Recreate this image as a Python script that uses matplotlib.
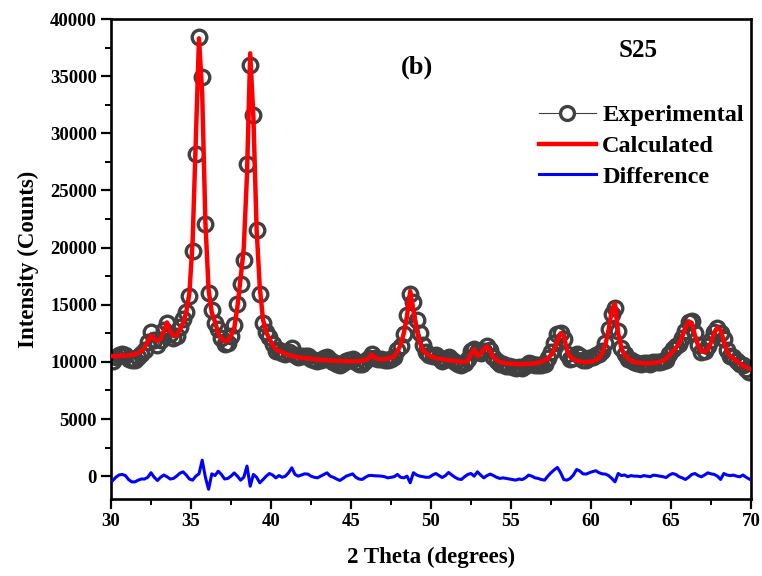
import numpy as np
import matplotlib
matplotlib.use("Agg")
import matplotlib.pyplot as plt
from matplotlib.lines import Line2D
from matplotlib.ticker import MultipleLocator

plt.rcParams['font.family'] = ['Liberation Serif', 'DejaVu Serif']
plt.rcParams['font.weight'] = 'bold'

# 2-theta sampling grid (degrees)
two_theta = np.round(np.arange(30.1, 70.0, 0.2), 1)

experimental = [
    10100, 10400, 10620, 10680, 10600, 10280, 10120, 10180, 10430, 10700,
    11000, 11700, 12600, 11900, 11470, 11900, 12800, 13400, 12450, 12100,
    12300, 13050, 13780, 14400, 15800, 19700, 28200, 38450, 34900, 22100,
    16000, 14500, 13400, 12900, 12100, 11550, 11650, 12300, 13200, 15100,
    16800, 18900, 27300, 36000, 31600, 21500, 15900, 13400, 12600, 12200,
    11600, 10950, 11000, 10750, 10700, 10900, 11250, 10600, 10400, 10470,
    10530, 10480, 10270, 10140, 10060, 10180, 10310, 10430, 10120, 10000,
    9840, 9700, 9860, 10050, 10140, 10240, 9950, 9820, 9810, 10050,
    10350, 10710, 10380, 10270, 10230, 10190, 10130, 10250, 10450, 11050,
    11400, 12400, 14100, 15900, 15200, 13700, 12500, 11500, 10900, 10600,
    10520, 10560, 10320, 10100, 10230, 10460, 10200, 9970, 9800, 9710,
    9940, 10250, 10930, 11100, 10880, 10800, 10950, 11400, 11080, 10450,
    10050, 9800, 9770, 9680, 9600, 9530, 9460, 9550, 9500, 9660,
    9920, 9850, 9730, 9720, 9700, 9770, 10300, 10900, 11650, 12400,
    12500, 12000, 10650, 10250, 10350, 10680, 10480, 10200, 10170, 10300,
    10450, 10620, 10650, 10950, 11680, 12850, 14200, 14700, 12730, 11250,
    10700, 10250, 10150, 10000, 9940, 9850, 9930, 9870, 9830, 9990,
    10000, 10000, 10050, 10180, 10700, 11130, 11350, 11550, 12050, 12710,
    13450, 13550, 12530, 11450, 10890, 10950, 11390, 11900, 12650, 13000,
    12510, 12030, 11000, 10550, 10390, 10050, 9790, 9750, 9400, 9140,
]

calculated = [
    10500, 10500, 10520, 10530, 10550, 10580, 10620, 10680, 10780, 10950,
    11250, 11800, 12300, 12000, 11850, 12000, 12700, 13450, 12700, 12300,
    12300, 12800, 13400, 14300, 16000, 20500, 29500, 38300, 33500, 22200,
    16300, 14300, 13500, 12500, 12000, 11800, 11850, 12300, 12900, 14800,
    17300, 20000, 26400, 37000, 31400, 21600, 16500, 13700, 12600, 12000,
    11500, 11100, 10950, 10850, 10700, 10600, 10520, 10450, 10400, 10370,
    10330, 10300, 10270, 10240, 10210, 10180, 10160, 10140, 10120, 10100,
    10090, 10080, 10060, 10050, 10040, 10040, 10050, 10070, 10100, 10150,
    10300, 10650, 10350, 10250, 10230, 10240, 10280, 10350, 10500, 10900,
    11500, 12500, 14000, 16200, 14500, 12800, 11700, 11000, 10750, 10550,
    10420, 10330, 10270, 10220, 10180, 10140, 10100, 10070, 10050, 10000,
    9990, 10100, 10700, 11100, 10500, 10700, 11100, 11350, 10900, 10400,
    10150, 10000, 9920, 9880, 9850, 9830, 9810, 9800, 9800, 9810,
    9830, 9850, 9880, 9920, 10000, 10120, 10300, 10600, 11100, 11800,
    12500, 12300, 11000, 10450, 10250, 10100, 10030, 10000, 9990, 10000,
    10050, 10150, 10350, 10750, 11500, 12800, 14500, 15100, 12500, 11200,
    10600, 10300, 10100, 10000, 9940, 9900, 9880, 9870, 9880, 9900,
    9950, 10000, 10100, 10300, 10600, 10900, 11200, 11600, 12200, 13000,
    13550, 13400, 12300, 11400, 10950, 10850, 11100, 11700, 12500, 13000,
    12800, 11800, 10900, 10500, 10300, 10050, 9850, 9650, 9500, 9400,
]

difference = [
    -400, -100, 100, 150, 50, -300, -500, -500, -350, -250,
    -250, -100, 300, -100, -380, -100, 100, -50, -250, -200,
    0, 250, 380, 100, -250, -350, 0, 200, 1400, -100,
    -1150, 200, 50, 430, 150, -250, -200, 0, 280, 0,
    -350, -100, 880, -880, 150, -100, -580, -300, 0, 230,
    100, -150, 50, -100, 0, 300, 730, 150, 0, 100,
    200, 180, 0, -100, -150, 0, 150, 290, 0, -100,
    -250, -380, -200, 0, 100, 200, -100, -250, -290, -100,
    50, 60, 30, 20, 0, -50, -150, -100, -50, 150,
    -100, -150, 0, -580, 300, 100, 0, -50, -100, -90,
    100, 230, 50, -120, 50, 320, 100, -100, -250, -290,
    -50, 150, 230, 0, 380, 100, -150, 50, 180, 50,
    -100, -200, -150, -200, -250, -300, -350, -250, -300, -150,
    90, 0, -150, -200, -300, -350, 0, 300, 550, 760,
    300, -300, -350, -200, 100, 580, 450, 200, 180, 300,
    400, 470, 300, 200, 180, 50, -200, -500, 230, 50,
    100, -50, 50, 0, 0, -50, 50, 0, -50, 90,
    50, 0, -50, -120, 100, 230, 150, -50, -150, -290,
    -100, 150, 230, 50, -60, 100, 290, 200, 150, 0,
    -290, 230, 100, 50, 90, 0, -60, 100, -100, -260,
]

labels = ["Experimental", "Calculated", "Difference"]
xticks = [30, 35, 40, 45, 50, 55, 60, 65, 70]
yticks = [0, 5000, 10000, 15000, 20000, 25000, 30000, 35000, 40000]

fig = plt.figure(figsize=(7.62, 5.76), dpi=100)
ax = fig.add_axes([111/762, 77/576, 640/762, 480/576])

grey = '#404040'
ax.plot(two_theta, experimental, '-', color=grey, lw=0.8, marker='o',
        ms=10.5, mfc='none', mec=grey, mew=2.4, zorder=2)
ax.plot(two_theta, calculated, '-', color='#ff0000', lw=3.2, zorder=3)
ax.plot(two_theta, difference, '-', color='#0000ff', lw=2.2, zorder=3)

ax.set_xlim(30, 70)
ax.set_ylim(-2000, 40000)
ax.set_xticks(xticks)
ax.set_yticks(yticks)
ax.xaxis.set_minor_locator(MultipleLocator(2.5))
ax.yaxis.set_minor_locator(MultipleLocator(2500))

for s in ax.spines.values():
    s.set_linewidth(1.9)

ax.tick_params(axis='both', which='major', direction='out', length=7, width=1.6,
               labelsize=13.5, pad=3, top=False, right=False)
ax.tick_params(axis='both', which='minor', direction='out', length=4, width=1.4,
               top=False, right=False)
for lab in ax.get_xticklabels() + ax.get_yticklabels():
    lab.set_fontweight('bold')

ax.set_xlabel("2 Theta (degrees)", fontsize=16.5, fontweight='bold', labelpad=12)
ax.set_ylabel("Intensity (Counts)", fontsize=16.5, fontweight='bold', labelpad=8)

ax.text(0.478, 0.90, "(b)", transform=ax.transAxes, fontsize=19,
        fontweight='bold', ha='center', va='center')
ax.text(0.824, 0.935, "S25", transform=ax.transAxes, fontsize=18,
        fontweight='bold', ha='center', va='center')

handles = [
    Line2D([], [], color=grey, lw=0.8, marker='o', ms=10, mfc='white', mec=grey, mew=2.4),
    Line2D([], [], color='#ff0000', lw=3.2),
    Line2D([], [], color='#0000ff', lw=2.2),
]
leg = ax.legend(handles, labels, loc='upper left', bbox_to_anchor=(0.668, 0.822),
                frameon=False, fontsize=17.5, handlelength=2.35, handletextpad=0.27,
                labelspacing=0.36, borderpad=0, borderaxespad=0, numpoints=1)
for t in leg.get_texts():
    t.set_fontweight('bold')

fig.savefig("out.png", dpi=100)
